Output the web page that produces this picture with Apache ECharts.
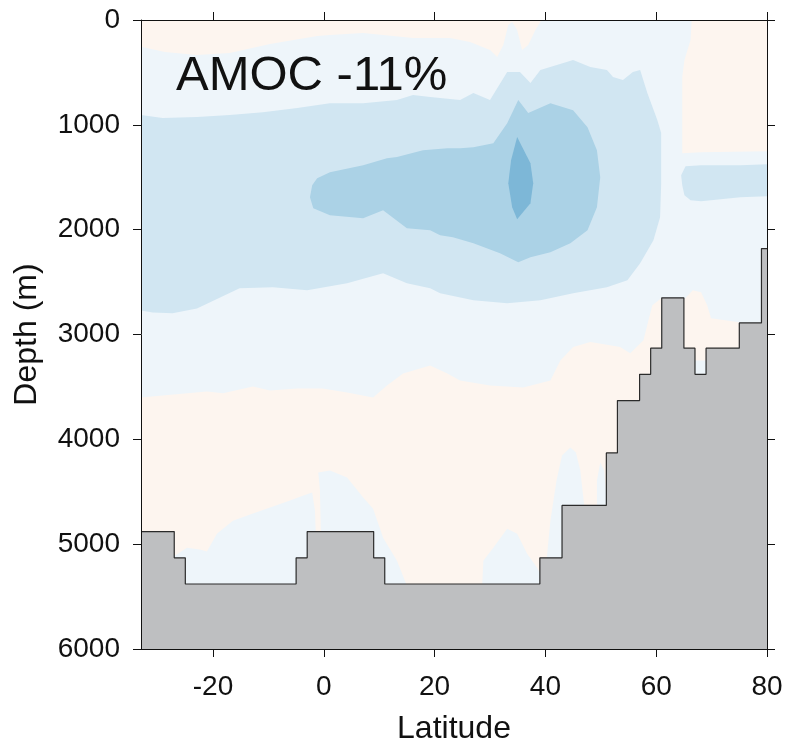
<!DOCTYPE html>
<html>
<head>
<meta charset="utf-8">
<title>AMOC -11%</title>
<script src="https://cdn.jsdelivr.net/npm/echarts@6/dist/echarts.min.js"></script>
<style>
  html, body { margin: 0; padding: 0; background: #ffffff; }
  #chart { width: 786px; height: 744px; }
</style>
</head>
<body>
<div id="chart"></div>
<script>
// Axis extents and tick labels
const latRange = [-33, 80];
const depthRange = [0, 6000];
const latTicks = [-20, 0, 20, 40, 60, 80];

// Ocean floor: step profile, depth (m) of each column starting at that latitude
const bathyLat   = [-33, -27, -25, -5, -3, 9, 11, 39, 43, 51, 53, 57, 59, 61, 65, 67, 69, 75, 79, 80];
const bathyDepth = [4880, 5130, 5380, 5130, 4880, 5130, 5380, 5130, 4630, 4130, 3630, 3380, 3130, 2650, 3130, 3380, 3130, 2890, 2180, 2180];

// Filled contour regions of the streamfunction change, as [latitude, depth] outlines
// Positive (weak strengthening) regions
const posSurfaceWest = [[-33,0],[-33,255],[-28.7,306],[-22.9,334],[-17.0,315],[-9.7,229],[-1.2,153],[1.1,143],[7.1,124],[16.1,172],[22.8,172],[26.4,210],[30.0,287],[31.3,353],[32.4,239],[33.3,48],[34.0,19],[34.9,96],[35.8,287],[36.9,239],[38.2,96],[39.3,0]];
const posSurfaceEast = [[66.4,0],[66.2,191],[65.1,382],[64.7,544],[64.7,1270],[68.1,1261],[80,1251],[80,0]];
const posDeep = [[-33,3601],[-29.1,3582],[-21.1,3543],[-18.2,3560],[-12.8,3496],[-9.7,3534],[-4.8,3515],[-0.2,3515],[4.2,3553],[8.9,3601],[11.4,3486],[14.3,3372],[19.2,3295],[22.3,3372],[24.6,3438],[30.0,3486],[36.0,3505],[40.9,3438],[42.7,3247],[45.0,3120],[48.1,3072],[53.5,3120],[55.3,3180],[57.7,3056],[58.6,2865],[59.3,2722],[60.9,2655],[60.9,6000],[-33,6000]];
const posRidge = [[64.9,2674],[66.6,2579],[68.1,2598],[69.2,2722],[69.9,2846],[75.0,2884],[75.0,3247],[64.9,3247]];

// Weak weakening patches near the floor
const negFloorWest = [[-27.3,5157],[-26.9,5110],[-24.7,5033],[-22.4,5052],[-21.1,5071],[-19.3,4900],[-16.4,4776],[-13.3,4718],[-9.7,4651],[-6.1,4584],[-3.8,4537],[-2.1,4508],[-1.6,4680],[-1.4,4966],[-1.4,5540],[-27.3,5540]];
const negFloorMid = [[-0.5,4966],[-0.7,4489],[-1.0,4317],[1.1,4298],[4.2,4365],[7.1,4556],[8.9,4661],[10.7,4938],[13.2,5157],[15.0,5396],[15.0,5540],[-0.5,5540]];
const negFloorEastA = [[28.6,5540],[28.6,5377],[28.8,5157],[30.6,5033],[33.1,4852],[34.9,4900],[36.7,5091],[38.5,5224],[40.0,5377],[40.0,5540]];
const negFloorEastB = [[40.3,5540],[40.2,5157],[40.9,4776],[42.0,4394],[43.0,4155],[44.5,4078],[45.5,4126],[46.3,4298],[47.0,4632],[47.0,5540]];
const negFloorEastC = [[49.3,5540],[49.3,4394],[49.9,4222],[50.6,4298],[51.1,4584],[51.1,5540]];

// NADW cell weakening: outer, middle and inner contours
const negCoreOuter = [[-33,907],[-29.1,936],[-22.9,926],[-17.0,907],[-11.0,879],[-4.8,840],[1.1,793],[7.1,793],[13.2,764],[16.1,716],[19.2,735],[24.6,764],[27.0,697],[30.0,764],[33.1,497],[35.4,497],[37.3,602],[39.1,478],[45.0,382],[48.1,449],[51.1,478],[52.2,544],[54.0,573],[55.8,497],[57.1,478],[58.4,697],[60.2,955],[60.9,1079],[60.9,1557],[60.7,1882],[59.5,2101],[57.1,2321],[54.8,2483],[51.1,2550],[45.0,2607],[39.1,2674],[33.1,2703],[27.0,2674],[21.0,2607],[19.2,2560],[15.0,2512],[10.7,2416],[4.2,2512],[-3.0,2579],[-9.2,2550],[-15.2,2560],[-22.9,2751],[-27.3,2798],[-30.9,2789],[-33,2770]];
const negNordic = [[64.7,1576],[64.5,1480],[65.3,1394],[68.1,1385],[75.2,1385],[80,1375],[80,1681],[75.2,1691],[68.1,1729],[66.2,1719],[65.1,1671]];
const negCoreMiddle = [[-2.5,1691],[-2.1,1576],[-1.2,1509],[1.1,1452],[7.1,1385],[11.4,1318],[13.2,1308],[17.9,1242],[22.3,1223],[24.6,1223],[27.0,1213],[30.6,1175],[33.1,984],[35.1,764],[36.9,888],[40.9,793],[45.0,860],[47.6,1022],[49.3,1242],[49.9,1500],[49.3,1786],[47.6,2006],[44.5,2130],[40.9,2216],[37.3,2264],[35.1,2311],[31.8,2225],[27.0,2130],[23.3,2073],[21.0,2053],[19.2,2006],[15.0,1987],[10.7,1815],[7.1,1891],[1.1,1862],[-1.9,1796]];
const negCoreInner = [[34.9,1117],[37.3,1366],[37.8,1557],[37.3,1748],[34.9,1901],[34.0,1786],[33.3,1557],[33.8,1337]];

// Fill colours for each contour level
const levelColors = {
  pos1: '#fdf5ef',
  neg1: '#eef5fa',
  neg2: '#d1e6f2',
  neg3: '#abd2e6',
  neg4: '#7db7d7'
};

// Drawing order: lower levels first, stronger weakening on top
const layers = [
  { pts: posSurfaceWest, level: 'pos1' },
  { pts: posSurfaceEast, level: 'pos1' },
  { pts: posDeep, level: 'pos1' },
  { pts: posRidge, level: 'pos1' },
  { pts: negFloorWest, level: 'neg1' },
  { pts: negFloorMid, level: 'neg1' },
  { pts: negFloorEastA, level: 'neg1' },
  { pts: negFloorEastB, level: 'neg1' },
  { pts: negFloorEastC, level: 'neg1' },
  { pts: negCoreOuter, level: 'neg2' },
  { pts: negNordic, level: 'neg2' },
  { pts: negCoreMiddle, level: 'neg3' },
  { pts: negCoreInner, level: 'neg4' }
];

const FONT = "'Liberation Sans', Arial, Helvetica, sans-serif";
const INK = '#111111';

const chart = echarts.init(document.getElementById('chart'), null, { renderer: 'canvas' });

const axisLineStyle = { show: true, onZero: false, lineStyle: { color: INK, width: 1 } };
const tickStyle = { show: true, length: 8, lineStyle: { color: INK, width: 1 } };

const option = {
  animation: false,
  backgroundColor: '#ffffff',
  title: {
    text: 'AMOC -11%',
    left: 176,
    top: 52,
    padding: 0,
    textStyle: { fontFamily: FONT, fontSize: 49, fontWeight: 'normal', color: INK }
  },
  grid: {
    left: 141, right: 19, top: 20, bottom: 95,
    outerBoundsMode: 'none',
    containLabel: false,
    show: true, backgroundColor: levelColors.neg1, borderWidth: 0
  },
  xAxis: [
    {
      type: 'value', position: 'bottom', z: 10,
      min: latRange[0], max: latRange[1],
      name: 'Latitude', nameLocation: 'middle', nameGap: 64,
      nameTextStyle: { fontFamily: FONT, fontSize: 32, color: INK },
      axisLine: axisLineStyle,
      axisTick: Object.assign({ customValues: latTicks }, tickStyle),
      axisLabel: { customValues: latTicks, margin: 24, fontFamily: FONT, fontSize: 28, color: INK },
      splitLine: { show: false }
    },
    {
      type: 'value', position: 'top', z: 10,
      min: latRange[0], max: latRange[1],
      axisLine: axisLineStyle,
      axisTick: Object.assign({ customValues: latTicks }, tickStyle),
      axisLabel: { show: false },
      splitLine: { show: false }
    }
  ],
  yAxis: [
    {
      type: 'value', position: 'left', inverse: true, z: 10,
      min: depthRange[0], max: depthRange[1], interval: 1000,
      name: 'Depth (m)', nameLocation: 'middle', nameGap: 98,
      nameTextStyle: { fontFamily: FONT, fontSize: 32, color: INK },
      axisLine: axisLineStyle,
      axisTick: tickStyle,
      axisLabel: { margin: 21, fontFamily: FONT, fontSize: 28, color: INK, formatter: v => String(v) },
      splitLine: { show: false }
    },
    {
      type: 'value', position: 'right', inverse: true, z: 10,
      min: depthRange[0], max: depthRange[1], interval: 1000,
      axisLine: axisLineStyle,
      axisTick: tickStyle,
      axisLabel: { show: false },
      splitLine: { show: false }
    }
  ],
  series: [
    {
      type: 'custom',
      name: 'contours',
      xAxisIndex: 0, yAxisIndex: 0,
      silent: true,
      clip: true,
      z: 1,
      encode: { x: 0, y: 1 },
      data: layers.map((l, i) => [l.pts[0][0], l.pts[0][1], i]),
      renderItem: function (params, api) {
        const layer = layers[api.value(2)];
        return {
          type: 'polygon',
          shape: { points: layer.pts.map(p => api.coord(p)) },
          style: { fill: levelColors[layer.level], stroke: null }
        };
      }
    },
    {
      type: 'line',
      name: 'bathymetry',
      xAxisIndex: 0, yAxisIndex: 0,
      silent: true,
      z: 3,
      step: 'end',
      symbol: 'none',
      data: bathyLat.map((lat, i) => [lat, bathyDepth[i]]),
      lineStyle: { color: '#2b2b2b', width: 1.2 },
      areaStyle: { origin: 'end', color: '#bebfc1', opacity: 1 }
    }
  ]
};

chart.setOption(option);
</script>
</body>
</html>
